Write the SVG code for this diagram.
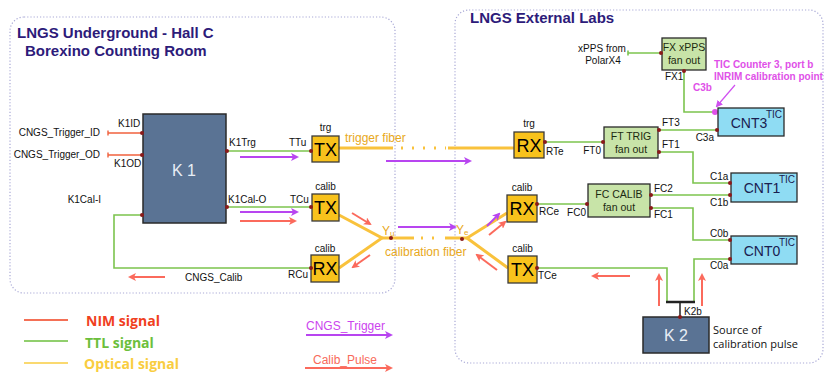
<svg xmlns="http://www.w3.org/2000/svg" width="830" height="384" viewBox="0 0 830 384">
<style>
.panel{fill:none;stroke:#a9a9d6;stroke-width:1.2;stroke-dasharray:1.2 2}
.title{font:bold 15px "Liberation Sans",Arial,sans-serif;fill:#2d1b7a}
.lbl{font:10px "Liberation Sans",Arial,sans-serif;fill:#111}
.k{fill:#5a7394;stroke:#2a2a2a;stroke-width:1.5}
.ktxt{font:16px "Liberation Sans",Arial,sans-serif;fill:#e8eef5;text-anchor:middle}
.tr{fill:#f8c21c;stroke:#3a3a3a;stroke-width:1.3}
.trt{font:18px "Liberation Sans",Arial,sans-serif;fill:#000;text-anchor:middle}
.fan{fill:#c8e4a8;stroke:#2a2a2a;stroke-width:1.3}
.fant{font:10.5px "Liberation Sans",Arial,sans-serif;fill:#1c2a10;text-anchor:middle}
.cnt{fill:#8fdcf3;stroke:#2a2a2a;stroke-width:1.3}
.cntt{font:14px "Liberation Sans",Arial,sans-serif;fill:#1a2050;text-anchor:middle}
.tic{font:10px "Liberation Sans",Arial,sans-serif;fill:#1a2050;text-anchor:end}
.g{fill:none;stroke:#7cc44e;stroke-width:1.6}
.nim{fill:none;stroke:#f0603c;stroke-width:1.4}
.fib{fill:none;stroke:#f9c23c;stroke-width:3}
.fibd{fill:none;stroke:#f9c23c;stroke-width:3;stroke-dasharray:2 9}
.pa{fill:none;stroke:#b845f0;stroke-width:2;marker-end:url(#ap)}
.ra{fill:none;stroke:#fb6a5c;stroke-width:2;marker-end:url(#ar)}
.dot{fill:#8b1a1a}
.or{font:12px "Liberation Sans",Arial,sans-serif;fill:#e8a820}
.mag{font:bold 10px "Liberation Sans",Arial,sans-serif;fill:#e050e8}
.leg{font:bold 14px "Open Sans","Liberation Sans",sans-serif}
.src{font:11px "Open Sans","Liberation Sans",sans-serif;fill:#111}
</style>
<defs>
<marker id="ap" markerWidth="8" markerHeight="8" refX="6" refY="4" orient="auto" markerUnits="userSpaceOnUse"><path d="M0,0 L8,4 L0,8 L2,4 Z" fill="#b845f0"/></marker>
<marker id="ar" markerWidth="8" markerHeight="8" refX="6" refY="4" orient="auto" markerUnits="userSpaceOnUse"><path d="M0,0 L8,4 L0,8 L2,4 Z" fill="#fb6a5c"/></marker>
<marker id="am" markerWidth="7" markerHeight="7" refX="5" refY="3.5" orient="auto" markerUnits="userSpaceOnUse"><path d="M0,0 L7,3.5 L0,7 Z" fill="#d050f0"/></marker>
</defs>
<rect width="830" height="384" fill="#fff"/>

<g id="panels">
<rect class="panel" x="10" y="17" width="385" height="276" rx="14"/>
<rect class="panel" x="455" y="10" width="368" height="353" rx="14"/>
<text class="title" x="17" y="38">LNGS Underground - Hall C</text>
<text class="title" x="25" y="56">Borexino Counting Room</text>
<text class="title" x="470" y="23">LNGS External Labs</text>
</g>

<g id="connectors">
<polyline class="g" points="142,215 114,215 114,268 311,268"/>
<line class="g" x1="227" y1="151" x2="312" y2="151"/>
<line class="g" x1="227" y1="207" x2="312" y2="207"/>
<line class="g" x1="545" y1="142" x2="604" y2="142"/>
<line class="g" x1="659" y1="130" x2="718" y2="130"/>
<polyline class="g" points="659,152 693,152 693,183 731,183"/>
<line class="g" x1="651" y1="195" x2="731" y2="195"/>
<polyline class="g" points="651,208 693,208 693,240 731,240"/>
<line class="g" x1="537" y1="204" x2="588" y2="204"/>
<polyline class="g" points="684,71 684,112 714,112"/>
<line class="g" x1="628" y1="53" x2="662" y2="53"/>
<line class="g" x1="628" y1="50.5" x2="628" y2="55.5" stroke-width="1"/>
<polyline class="g" points="537,268 667,268 667,302"/>
<polyline class="g" points="694,302 694,259 731,259"/>
<line x1="666" y1="302" x2="695" y2="302" stroke="#222" stroke-width="2.5"/>
<line x1="680" y1="302" x2="680" y2="317" stroke="#222" stroke-width="1.5"/>
<line class="nim" x1="108" y1="133" x2="142" y2="133"/>
<line class="nim" x1="108" y1="130.5" x2="108" y2="135.5" stroke-width="1"/>
<line class="nim" x1="108" y1="155" x2="142" y2="155"/>
<line class="nim" x1="108" y1="152.5" x2="108" y2="157.5" stroke-width="1"/>
<line class="fib" x1="339" y1="148" x2="393" y2="148"/>
<line class="fibd" x1="401" y1="148" x2="446" y2="148"/>
<line class="fib" x1="448" y1="148" x2="514" y2="148"/>
<polyline class="fib" points="339,215 382,238 339,268"/>
<line class="fib" x1="382" y1="238" x2="414" y2="238"/>
<line class="fibd" x1="421" y1="238" x2="442" y2="238"/>
<line class="fib" x1="445" y1="238" x2="467" y2="238"/>
<polyline class="fib" points="507,213 467,238 508,268"/>
<line class="pa" x1="240" y1="157" x2="297" y2="157"/>
<line class="pa" x1="240" y1="212" x2="297" y2="212"/>
<line class="pa" x1="386" y1="161" x2="470" y2="161"/>
<line class="pa" x1="398" y1="227" x2="455" y2="227"/>
<line class="pa" x1="487" y1="226" x2="499" y2="214"/>
<line class="ra" x1="240" y1="221" x2="295" y2="221"/>
<line class="ra" x1="165" y1="277" x2="130" y2="277"/>
<line class="ra" x1="352" y1="213" x2="370" y2="224"/>
<line class="ra" x1="370" y1="255" x2="353" y2="267"/>
<line class="ra" x1="489" y1="235" x2="505" y2="222"/>
<line class="ra" x1="497" y1="270" x2="477" y2="255"/>
<line class="ra" x1="630" y1="276" x2="593" y2="276"/>
<line class="ra" x1="659" y1="306" x2="659" y2="275"/>
<line class="ra" x1="702" y1="306" x2="702" y2="275"/>
<line x1="735" y1="85" x2="717" y2="106" stroke="#d050f0" stroke-width="1.2" marker-end="url(#am)"/>
</g>

<g id="K1">
<rect class="k" x="143" y="114" width="83" height="109"/>
<text class="ktxt" x="184" y="176">K 1</text>
<circle class="dot" cx="142" cy="133" r="2"/>
<circle class="dot" cx="142" cy="155" r="2"/>
<circle class="dot" cx="142" cy="215" r="2"/>
<circle class="dot" cx="227" cy="151" r="2"/>
<circle class="dot" cx="227" cy="207" r="2"/>
<text class="lbl" x="118" y="127">K1ID</text>
<text class="lbl" x="114" y="167">K1OD</text>
<text class="lbl" x="229" y="146">K1Trg</text>
<text class="lbl" x="228" y="203">K1Cal-O</text>
<text class="lbl" x="101" y="203" text-anchor="end">K1Cal-I</text>
<text class="lbl" x="100" y="136" text-anchor="end">CNGS_Trigger_ID</text>
<text class="lbl" x="100" y="158" text-anchor="end">CNGS_Trigger_OD</text>
<text class="lbl" x="185" y="281">CNGS_Calib</text>
</g>

<g id="TXtrgU">
<rect class="tr" x="312" y="136" width="27" height="26"/>
<text class="trt" x="325.5" y="156">TX</text>
<text class="lbl" x="325.5" y="131" text-anchor="middle">trg</text>
<text class="lbl" x="289" y="146">TTu</text>
<circle class="dot" cx="311" cy="151" r="2"/>
</g>
<g id="TXcalU">
<rect class="tr" x="312" y="194" width="27" height="27"/>
<text class="trt" x="325.5" y="214">TX</text>
<text class="lbl" x="325.5" y="190" text-anchor="middle">calib</text>
<text class="lbl" x="290" y="203">TCu</text>
<circle class="dot" cx="311" cy="207" r="2"/>
</g>
<g id="RXcalU">
<rect class="tr" x="311" y="255" width="28" height="27"/>
<text class="trt" x="325" y="275">RX</text>
<text class="lbl" x="325" y="252" text-anchor="middle">calib</text>
<text class="lbl" x="288" y="278">RCu</text>
<circle class="dot" cx="311" cy="268" r="2"/>
</g>

<g id="fibers">
<text class="or" x="345" y="142">trigger fiber</text>
<text class="or" x="385" y="256">calibration fiber</text>
<text class="or" x="382" y="235">Y<tspan font-size="8" dy="1">u</tspan></text>
<text class="or" x="456" y="234">Y<tspan font-size="8" dy="1">e</tspan></text>
<circle class="dot" cx="391" cy="238" r="2"/>
<circle class="dot" cx="462" cy="239" r="2"/>
</g>

<g id="RXtrgE">
<rect class="tr" x="514" y="132" width="30" height="26"/>
<text class="trt" x="529" y="152">RX</text>
<text class="lbl" x="529" y="127" text-anchor="middle">trg</text>
<text class="lbl" x="546" y="155">RTe</text>
<circle class="dot" cx="545" cy="142" r="2"/>
</g>
<g id="RXcalE">
<rect class="tr" x="507" y="195" width="30" height="27"/>
<text class="trt" x="522" y="215">RX</text>
<text class="lbl" x="522" y="191" text-anchor="middle">calib</text>
<text class="lbl" x="539" y="215">RCe</text>
<circle class="dot" cx="537" cy="204" r="2"/>
</g>
<g id="TXcalE">
<rect class="tr" x="508" y="256" width="29" height="27"/>
<text class="trt" x="522.5" y="276">TX</text>
<text class="lbl" x="522.5" y="252" text-anchor="middle">calib</text>
<text class="lbl" x="538" y="279">TCe</text>
<circle class="dot" cx="537" cy="268" r="2"/>
</g>

<g id="FX">
<rect class="fan" x="662" y="38" width="44" height="32"/>
<text class="fant" x="684" y="51" font-size="9.5">FX xPPS</text>
<text class="fant" x="684" y="64" font-size="9.5">fan out</text>
<circle class="dot" cx="661" cy="53" r="2"/>
<circle class="dot" cx="684" cy="71" r="2"/>
<text class="lbl" x="665" y="80">FX1</text>
<text class="lbl" x="602" y="52" text-anchor="middle">xPPS from</text>
<text class="lbl" x="603" y="64" text-anchor="middle">PolarX4</text>
<text class="mag" x="714" y="68">TIC Counter 3, port b</text>
<text class="mag" x="714" y="80">INRIM calibration point</text>
<text class="mag" x="693" y="91" font-weight="normal">C3b</text>
<circle cx="715" cy="112" r="3" fill="#e050e8"/>
</g>

<g id="FT">
<rect class="fan" x="604" y="127" width="54" height="31"/>
<text class="fant" x="631" y="140">FT  TRIG</text>
<text class="fant" x="631" y="153">fan out</text>
<circle class="dot" cx="603" cy="142" r="2"/>
<circle class="dot" cx="659" cy="130" r="2"/>
<circle class="dot" cx="659" cy="152" r="2"/>
<text class="lbl" x="601" y="154" text-anchor="end">FT0</text>
<text class="lbl" x="662" y="126">FT3</text>
<text class="lbl" x="662" y="148">FT1</text>
</g>

<g id="FC">
<rect class="fan" x="588" y="184" width="62" height="33"/>
<text class="fant" x="619" y="198">FC CALIB</text>
<text class="fant" x="619" y="211">fan out</text>
<circle class="dot" cx="587" cy="204" r="2"/>
<circle class="dot" cx="651" cy="195" r="2"/>
<circle class="dot" cx="651" cy="208" r="2"/>
<text class="lbl" x="586" y="216" text-anchor="end">FC0</text>
<text class="lbl" x="654" y="192">FC2</text>
<text class="lbl" x="654" y="218">FC1</text>
</g>

<g id="CNT3">
<rect class="cnt" x="718" y="108" width="66" height="28"/>
<text class="cntt" x="749" y="128">CNT3</text>
<text class="tic" x="782" y="118">TIC</text>
<circle class="dot" cx="717" cy="130" r="2"/>
<text class="lbl" x="714" y="141" text-anchor="end">C3a</text>
</g>
<g id="CNT1">
<rect class="cnt" x="731" y="173" width="66" height="29"/>
<text class="cntt" x="762" y="193">CNT1</text>
<text class="tic" x="795" y="183">TIC</text>
<circle class="dot" cx="730" cy="183" r="2"/>
<circle class="dot" cx="730" cy="195" r="2"/>
<text class="lbl" x="710" y="180">C1a</text>
<text class="lbl" x="710" y="206">C1b</text>
</g>
<g id="CNT0">
<rect class="cnt" x="731" y="236" width="66" height="28"/>
<text class="cntt" x="762" y="256">CNT0</text>
<text class="tic" x="795" y="246">TIC</text>
<circle class="dot" cx="730" cy="240" r="2"/>
<circle class="dot" cx="730" cy="259" r="2"/>
<text class="lbl" x="710" y="237">C0b</text>
<text class="lbl" x="710" y="269">C0a</text>
</g>

<g id="K2">
<rect class="k" x="643" y="317" width="66" height="36"/>
<text class="ktxt" x="676" y="341" font-size="14">K 2</text>
<circle class="dot" cx="680" cy="317" r="2"/>
<text class="lbl" x="684" y="315">K2b</text>
<text class="src" x="713" y="334">Source of</text>
<text class="src" x="713" y="348">calibration pulse</text>
</g>

<g id="legend">
<line x1="24" y1="320" x2="68" y2="320" stroke="#f0401e" stroke-width="1.5"/>
<line x1="24" y1="341" x2="68" y2="341" stroke="#6cbf3c" stroke-width="1.5"/>
<line x1="24" y1="363" x2="68" y2="363" stroke="#f9cd40" stroke-width="1.5"/>
<text class="leg" x="86" y="326" fill="#f0401e">NIM signal</text>
<text class="leg" x="85" y="348" fill="#6cbf3c">TTL signal</text>
<text class="leg" x="84" y="369" fill="#f9cd40">Optical signal</text>
<text x="306" y="330" font-family="Liberation Sans,Arial,sans-serif" font-size="12" fill="#cc44ee">CNGS_Trigger</text>
<line class="pa" x1="306" y1="335" x2="391" y2="335"/>
<text x="313" y="364" font-family="Liberation Sans,Arial,sans-serif" font-size="12" fill="#f86a5a">Calib_Pulse</text>
<line class="ra" x1="305" y1="368" x2="391" y2="368"/>
</g>
</svg>
